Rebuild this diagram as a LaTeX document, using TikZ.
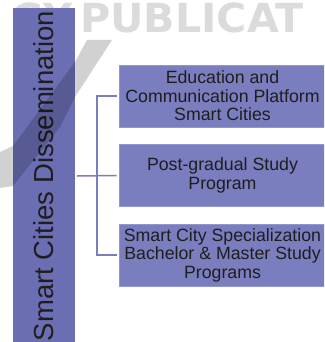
\documentclass[tikz,border=0pt]{standalone}
\usepackage{fontspec}
\setmainfont{Liberation Sans}
\newfontfamily\markfont{DejaVu Sans}
\usepackage{tikz}
\usepackage{xcolor}
\definecolor{barblue}{HTML}{6C6EB4}
\definecolor{boxblue}{HTML}{7A7DBE}
\definecolor{edgeblue}{HTML}{9395CF}
\definecolor{inkgray}{HTML}{1E1E1E}
\begin{document}
\begin{tikzpicture}[x=1pt,y=1pt]
\tikzstyle{every node}+=[inner sep=0pt]
\tikzstyle{box}=[draw=edgeblue, line width=0.8pt, fill=boxblue, minimum width=207pt, minimum height=62pt, align=center, text=inkgray, font=\fontsize{17.75}{18.5}\selectfont]
\tikzstyle{link}=[draw=boxblue, line width=1.5pt]
\tikzstyle{wmtext}=[text=black!14, font=\markfont\bfseries\fontsize{40}{44}\selectfont]
\useasboundingbox (0,0) rectangle (324,-342);
\clip (0,0) rectangle (324,-342);
\node[wmtext, anchor=base east] (wmgy) at (73,-33) {GY};
\node[wmtext, anchor=base west, xscale=1.03] (wmpub) at (80,-33) {PUBLICAT};
\node[fill=barblue, minimum width=62pt, minimum height=336pt, text=inkgray] (bar) at (44,-176) {\rotatebox{90}{\fontsize{27.5}{30}\selectfont Smart Cities Dissemination}};
\node[box] (edu) at (222.5,-96) {Education and\\Communication Platform\\Smart Cities};
\node[box] (post) at (222.5,-175.5) {Post-gradual Study\\Program};
\node[box] (spec) at (222.5,-255) {Smart City Specialization\\Bachelor \& Master Study\\Programs};
\coordinate (fork) at (97,-176);
\draw[link] ([xshift=2pt]bar.east) -- ([xshift=-2pt]post.west);
\draw[link] ([xshift=-2pt]edu.west) -| (fork) |- ([xshift=-2pt]spec.west);
\fill[black, opacity=0.18] (87,-40) -- (112,-40) -- (75,-97) -- (60,-127) -- (13,-186) -- (0,-188) -- (0,-152) -- (13,-146) -- (75,-62) -- cycle;
\end{tikzpicture}
\end{document}
